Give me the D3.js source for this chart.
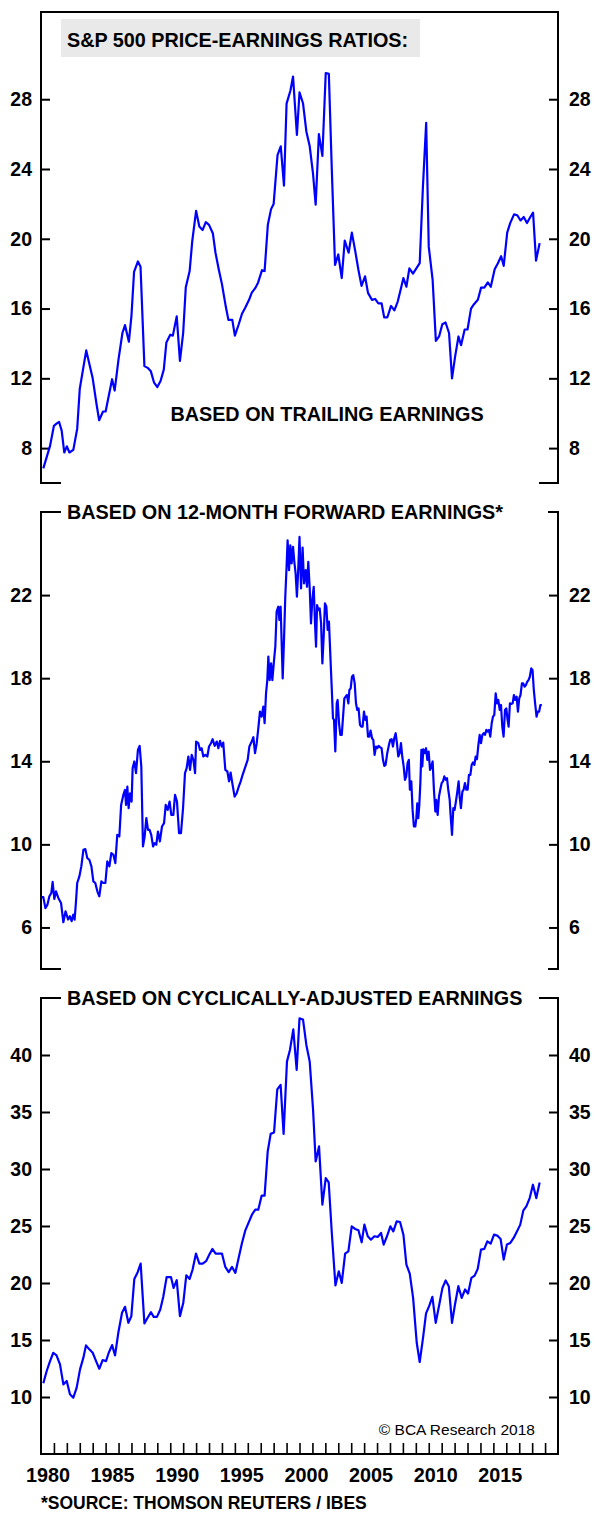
<!DOCTYPE html>
<html>
<head>
<meta charset="utf-8">
<script src="https://cdnjs.cloudflare.com/ajax/libs/d3/7.8.5/d3.min.js"></script>
<style>
  body { margin: 0; background: #fff; }
  svg text { font-family: "Liberation Sans", Arial, sans-serif; fill: #000; }
</style>
</head>
<body>
<svg id="chart" width="595" height="1513"></svg>
<script>

// S&P 500 P/E based on trailing earnings  [year, ratio]
var trailing = [
  [1980.18,6.84],[1980.7,8.13],[1981.0,9.28],[1981.2,9.4],[1981.4,9.5],[1981.6,9.0],[1981.8,7.75],[1982.0,8.1],
  [1982.2,7.75],[1982.5,7.9],[1982.8,9.1],[1983.0,11.4],[1983.5,13.6],[1984.0,12.0],[1984.3,10.5],[1984.5,9.6],
  [1984.8,10.1],[1985.0,10.1],[1985.5,11.95],[1985.7,11.3],[1986.0,13.1],[1986.3,14.6],[1986.5,15.05],[1986.8,14.1],
  [1987.0,15.6],[1987.2,18.1],[1987.5,18.7],[1987.7,18.4],[1988.0,12.7],[1988.25,12.6],[1988.5,12.4],[1988.75,11.75],
  [1989.0,11.5],[1989.25,11.85],[1989.5,12.5],[1989.7,14.05],[1990.0,14.5],[1990.2,14.45],[1990.5,15.55],[1990.75,13.0],
  [1991.0,14.6],[1991.2,17.2],[1991.5,18.15],[1991.7,19.85],[1992.0,21.6],[1992.25,20.7],[1992.5,20.5],[1992.75,20.95],
  [1993.0,20.8],[1993.3,20.3],[1993.5,19.2],[1993.75,18.25],[1994.0,17.4],[1994.3,16.1],[1994.5,15.35],[1994.8,15.35],
  [1995.0,14.45],[1995.3,15.1],[1995.55,15.7],[1995.8,16.05],[1996.1,16.5],[1996.3,16.9],[1996.6,17.2],[1996.8,17.5],
  [1997.1,18.2],[1997.3,18.15],[1997.55,20.8],[1997.8,21.7],[1998.0,22.0],[1998.3,24.8],[1998.55,25.3],[1998.8,23.05],
  [1999.0,27.75],[1999.3,28.5],[1999.5,29.3],[1999.8,25.95],[2000.0,28.4],[2000.27,27.77],[2000.53,26.15],[2000.79,25.3],
  [2001.05,23.7],[2001.25,21.95],[2001.5,26.0],[2001.77,24.75],[2002.03,29.5],[2002.27,29.45],[2002.5,23.95],[2002.75,18.5],
  [2003.0,19.1],[2003.27,17.75],[2003.5,19.9],[2003.8,19.2],[2004.05,20.35],[2004.3,19.35],[2004.55,18.25],[2004.8,17.3],
  [2005.07,17.85],[2005.3,16.9],[2005.6,16.5],[2005.85,16.55],[2006.1,16.3],[2006.35,16.3],[2006.55,15.5],[2006.8,15.5],
  [2007.08,16.15],[2007.34,15.9],[2007.6,16.4],[2007.8,17.0],[2008.04,17.75],[2008.27,17.25],[2008.5,18.3],[2008.78,18.0],
  [2009.04,18.3],[2009.3,18.6],[2009.55,23.0],[2009.8,26.65],[2010.0,19.55],[2010.3,17.65],[2010.55,14.15],[2010.8,14.4],
  [2011.05,15.1],[2011.3,15.2],[2011.57,14.6],[2011.8,12.0],[2012.03,13.2],[2012.3,14.4],[2012.5,13.9],[2012.78,14.8],
  [2013.0,14.8],[2013.27,16.0],[2013.5,16.25],[2013.8,16.5],[2014.05,17.2],[2014.3,17.2],[2014.57,17.5],[2014.8,17.25],
  [2015.1,18.25],[2015.35,18.6],[2015.6,19.0],[2015.8,18.45],[2016.07,20.35],[2016.3,20.9],[2016.6,21.4],[2016.85,21.35],
  [2017.1,21.05],[2017.35,21.25],[2017.6,20.9],[2017.86,21.25],[2018.07,21.5],[2018.3,18.75],[2018.58,19.75]
];

// based on 12-month forward earnings  [year, ratio]
var forward = [
  [1980.05,7.46],[1980.18,7.46],[1980.34,6.93],[1980.5,7.1],[1980.65,7.5],[1980.8,7.66],[1980.9,8.2],[1981.03,7.37],
  [1981.16,7.74],[1981.34,7.42],[1981.55,7.18],[1981.73,6.25],[1981.9,6.78],[1982.1,6.38],[1982.24,6.54],[1982.37,6.3],
  [1982.5,6.62],[1982.6,6.38],[1982.7,7.18],[1982.8,8.14],[1982.97,8.46],[1983.12,8.94],[1983.28,9.74],[1983.43,9.77],
  [1983.58,9.34],[1983.74,9.26],[1983.9,8.94],[1984.05,8.22],[1984.2,8.14],[1984.36,7.74],[1984.51,7.5],[1984.67,8.22],
  [1984.82,8.14],[1984.98,8.14],[1985.13,9.18],[1985.29,8.94],[1985.44,9.58],[1985.6,9.5],[1985.75,9.1],[1985.9,10.46],
  [1986.06,10.38],[1986.2,11.9],[1986.37,12.38],[1986.5,12.62],[1986.58,11.9],[1986.68,12.78],[1986.78,11.74],[1986.89,12.46],
  [1987.01,12.06],[1987.09,13.67],[1987.22,13.99],[1987.35,13.43],[1987.5,14.55],[1987.63,14.74],[1987.76,13.75],[1987.89,9.9],
  [1988.02,10.38],[1988.15,11.26],[1988.28,10.7],[1988.4,10.7],[1988.53,10.46],[1988.67,9.9],[1988.8,10.06],[1988.92,9.98],
  [1989.05,10.62],[1989.2,10.14],[1989.36,10.86],[1989.52,11.02],[1989.65,11.9],[1989.8,11.66],[1989.95,12.06],[1990.08,11.42],
  [1990.24,11.42],[1990.37,12.38],[1990.52,12.06],[1990.68,10.54],[1990.83,10.54],[1990.99,11.74],[1991.14,13.43],[1991.27,13.67],
  [1991.4,14.23],[1991.53,13.59],[1991.66,14.31],[1991.79,14.07],[1991.92,13.43],[1992.0,14.95],[1992.17,14.87],[1992.3,14.55],
  [1992.43,14.63],[1992.56,14.23],[1992.71,14.31],[1992.87,14.23],[1993.0,14.71],[1993.15,14.87],[1993.28,15.06],[1993.44,14.74],
  [1993.6,14.95],[1993.72,14.63],[1993.85,14.98],[1993.98,14.71],[1994.1,14.9],[1994.26,13.59],[1994.42,13.51],[1994.55,13.03],
  [1994.67,13.46],[1994.8,12.95],[1994.98,12.3],[1995.14,12.46],[1995.3,12.78],[1995.45,13.03],[1995.6,13.35],[1995.73,13.59],
  [1995.86,13.83],[1995.99,14.07],[1996.12,14.71],[1996.27,14.9],[1996.43,15.16],[1996.56,14.39],[1996.69,14.87],[1996.84,15.75],
  [1996.94,16.39],[1997.07,16.15],[1997.2,16.63],[1997.3,15.83],[1997.41,17.27],[1997.51,17.91],[1997.59,19.04],[1997.69,17.91],
  [1997.8,18.71],[1997.9,17.91],[1998.03,18.87],[1998.13,19.52],[1998.23,21.2],[1998.36,21.44],[1998.44,20.8],[1998.54,21.44],
  [1998.7,17.99],[1998.8,19.84],[1998.9,21.92],[1999.0,23.36],[1999.08,24.64],[1999.19,23.2],[1999.29,24.4],[1999.39,23.52],
  [1999.5,24.32],[1999.6,23.6],[1999.7,23.04],[1999.8,21.92],[1999.9,23.2],[2000.0,24.8],[2000.12,22.32],[2000.24,24.29],
  [2000.35,22.56],[2000.48,23.2],[2000.58,22.4],[2000.68,23.6],[2000.79,22.32],[2000.89,20.64],[2000.99,21.76],[2001.1,22.4],
  [2001.2,20.64],[2001.28,19.52],[2001.36,21.52],[2001.46,21.28],[2001.56,21.36],[2001.67,20.64],[2001.77,18.71],[2001.87,20.0],
  [2001.97,21.6],[2002.08,21.44],[2002.18,20.32],[2002.28,20.72],[2002.39,19.04],[2002.49,17.59],[2002.59,16.07],[2002.67,15.99],
  [2002.77,14.47],[2002.88,16.79],[2002.95,16.95],[2003.06,15.83],[2003.16,15.27],[2003.27,15.27],[2003.37,16.15],[2003.47,17.03],
  [2003.57,17.11],[2003.67,17.19],[2003.78,16.79],[2003.86,17.43],[2003.96,17.51],[2004.06,18.07],[2004.16,18.15],[2004.27,17.75],
  [2004.37,16.79],[2004.47,16.47],[2004.57,16.55],[2004.68,15.75],[2004.78,15.67],[2004.88,15.67],[2004.99,16.39],[2005.09,15.99],
  [2005.19,16.15],[2005.3,15.19],[2005.4,15.19],[2005.5,15.48],[2005.61,15.11],[2005.71,15.03],[2005.81,14.31],[2005.92,14.71],
  [2006.02,14.63],[2006.12,14.74],[2006.22,14.68],[2006.35,14.63],[2006.46,14.07],[2006.56,13.78],[2006.66,13.83],[2006.79,14.39],
  [2006.92,14.79],[2007.02,15.03],[2007.13,15.06],[2007.23,14.71],[2007.33,15.11],[2007.44,15.35],[2007.54,14.87],[2007.64,14.23],
  [2007.75,14.39],[2007.85,14.87],[2007.95,14.23],[2008.06,13.75],[2008.16,13.1],[2008.26,13.27],[2008.36,13.91],[2008.46,14.07],
  [2008.54,12.63],[2008.65,13.03],[2008.75,11.66],[2008.85,10.86],[2008.96,10.86],[2009.04,11.26],[2009.11,11.98],[2009.19,11.26],
  [2009.27,11.9],[2009.35,12.95],[2009.43,14.55],[2009.5,13.75],[2009.58,14.58],[2009.68,14.39],[2009.79,14.63],[2009.89,14.07],
  [2009.99,14.47],[2010.1,13.59],[2010.2,13.75],[2010.3,13.99],[2010.4,12.63],[2010.51,11.58],[2010.58,12.14],[2010.69,11.42],
  [2010.79,12.3],[2010.89,12.63],[2011.0,12.95],[2011.1,13.03],[2011.2,13.27],[2011.31,13.11],[2011.41,13.19],[2011.51,12.63],
  [2011.62,12.14],[2011.69,11.42],[2011.8,10.46],[2011.9,11.74],[2012.0,11.66],[2012.1,12.06],[2012.21,12.54],[2012.31,13.03],
  [2012.39,12.3],[2012.49,11.74],[2012.6,12.54],[2012.7,12.63],[2012.8,12.95],[2012.91,12.63],[2013.01,12.63],[2013.11,13.35],
  [2013.22,13.35],[2013.32,13.83],[2013.42,13.94],[2013.53,13.83],[2013.63,14.23],[2013.73,14.1],[2013.84,14.79],[2013.94,15.27],
  [2014.04,14.87],[2014.15,15.27],[2014.25,15.35],[2014.35,15.27],[2014.46,15.51],[2014.56,15.43],[2014.66,15.51],[2014.76,15.19],
  [2014.87,15.83],[2014.97,16.15],[2015.07,16.23],[2015.18,17.27],[2015.28,16.79],[2015.38,16.95],[2015.49,16.47],[2015.59,16.71],
  [2015.69,15.67],[2015.79,15.19],[2015.9,16.47],[2016.0,16.55],[2016.1,15.99],[2016.18,15.67],[2016.28,16.79],[2016.38,16.76],
  [2016.49,16.79],[2016.59,17.19],[2016.69,16.95],[2016.8,17.11],[2016.9,16.39],[2017.0,17.03],[2017.1,17.19],[2017.21,17.75],
  [2017.31,17.75],[2017.41,17.59],[2017.52,17.67],[2017.62,17.83],[2017.72,17.91],[2017.82,18.07],[2017.93,18.47],[2018.03,18.39],
  [2018.13,17.43],[2018.23,16.79],[2018.34,16.15],[2018.44,16.39],[2018.54,16.39],[2018.64,16.71],[2018.75,16.71]
];

// based on cyclically-adjusted earnings  [year, ratio]
var cape = [
  [1980.18,11.2],[1980.44,12.28],[1980.7,13.15],[1980.95,13.88],[1981.2,13.65],[1981.47,12.86],[1981.73,11.11],[1981.99,11.4],
  [1982.24,10.24],[1982.5,9.94],[1982.76,10.82],[1983.02,12.42],[1983.28,13.45],[1983.48,14.53],[1983.74,14.18],[1984.0,13.88],
  [1984.26,13.15],[1984.51,12.48],[1984.77,13.24],[1985.03,13.15],[1985.24,13.88],[1985.5,14.55],[1985.73,13.65],[1985.98,15.63],
  [1986.27,17.39],[1986.5,17.91],[1986.76,16.51],[1986.99,17.09],[1987.22,20.36],[1987.48,20.95],[1987.71,21.7],[1988.0,16.45],
  [1988.25,16.95],[1988.51,17.44],[1988.72,17.03],[1988.97,17.03],[1989.23,17.68],[1989.46,18.79],[1989.72,20.51],[1990.06,20.51],
  [1990.26,19.57],[1990.5,20.25],[1990.75,17.09],[1991.01,18.26],[1991.24,20.68],[1991.5,20.36],[1991.73,21.18],[1991.99,22.58],
  [1992.25,21.7],[1992.51,21.7],[1992.77,21.91],[1993.02,22.49],[1993.26,22.99],[1993.51,22.58],[1993.77,22.58],[1994.0,22.58],
  [1994.26,21.41],[1994.52,20.95],[1994.78,21.41],[1995.04,20.89],[1995.29,22.2],[1995.55,23.51],[1995.81,24.62],[1996.07,25.32],
  [1996.32,25.99],[1996.58,26.43],[1996.81,26.43],[1997.07,27.66],[1997.3,27.66],[1997.54,31.54],[1997.77,33.08],[1998.03,33.2],
  [1998.28,36.99],[1998.54,37.37],[1998.77,33.08],[1999.03,39.42],[1999.26,40.44],[1999.52,42.25],[1999.78,38.69],[2000.0,43.21],
  [2000.27,43.12],[2000.53,40.88],[2000.79,39.42],[2001.05,35.19],[2001.25,30.66],[2001.51,31.98],[2001.77,26.87],[2002.03,29.2],
  [2002.26,28.82],[2002.5,24.39],[2002.78,19.78],[2003.04,21.03],[2003.27,20.01],[2003.53,22.58],[2003.78,22.78],[2004.04,24.97],
  [2004.3,24.74],[2004.56,24.62],[2004.81,23.57],[2005.02,25.12],[2005.28,24.1],[2005.53,23.8],[2005.79,24.1],[2006.05,24.04],
  [2006.31,24.39],[2006.51,23.37],[2006.77,24.1],[2007.03,24.97],[2007.26,24.53],[2007.52,25.41],[2007.78,25.35],[2008.04,24.24],
  [2008.27,21.62],[2008.53,20.83],[2008.79,18.7],[2009.07,14.76],[2009.3,13.07],[2009.56,15.2],[2009.79,17.33],[2010.03,17.97],
  [2010.28,18.79],[2010.54,16.51],[2010.8,18.03],[2011.06,19.57],[2011.31,20.22],[2011.55,19.72],[2011.8,16.51],[2012.03,18.11],
  [2012.29,19.72],[2012.55,18.7],[2012.81,19.43],[2013.04,19.08],[2013.3,20.45],[2013.55,20.65],[2013.79,21.24],[2014.04,22.93],
  [2014.3,22.99],[2014.53,23.66],[2014.79,23.45],[2015.05,24.24],[2015.3,24.16],[2015.56,23.86],[2015.8,22.05],[2016.05,23.37],
  [2016.31,23.51],[2016.57,23.95],[2016.83,24.53],[2017.08,25.12],[2017.32,26.37],[2017.55,26.72],[2017.81,27.45],[2018.06,28.62],
  [2018.32,27.45],[2018.58,28.82]
];

var trailingTicks = [8, 12, 16, 20, 24, 28];
var forwardTicks = [6, 10, 14, 18, 22];
var capeTicks = [10, 15, 20, 25, 30, 35, 40];
var yearTicks = d3.range(1981, 2020);
var yearLabels = [1980, 1985, 1990, 1995, 2000, 2005, 2010, 2015];

var svg = d3.select("#chart");
var LEFT = 41, RIGHT = 558, AXIS_Y = 1454;

var x = d3.scaleLinear().domain([1980, 2020]).range([LEFT, RIGHT]);

var panels = [
  {data: trailing, domain: [6, 33], top: 12, bottom: 483, ticks: trailingTicks,
    topLine: "full", bottomLine: "stubs", stubL: 60, stubR: 540},
  {data: forward, domain: [4, 26], top: 512, bottom: 969, ticks: forwardTicks,
    topLine: "stubs", bottomLine: "stubs", stubL: 60, stubR: 549,
    title: "BASED ON 12-MONTH FORWARD EARNINGS*"},
  {data: cape, domain: [5, 45], top: 998, bottom: AXIS_Y, ticks: capeTicks,
    topLine: "stubs", bottomLine: "full", stubL: 60, stubR: 540,
    title: "BASED ON CYCLICALLY-ADJUSTED EARNINGS"}
];

function frameLine(g, x1, y1, x2, y2){
  g.append("line").attr("x1", x1).attr("y1", y1).attr("x2", x2).attr("y2", y2)
    .attr("stroke", "#000").attr("stroke-width", 2).attr("stroke-linecap", "square");
}

function hLine(g, p, y, kind){
  if(kind === "full"){
    frameLine(g, LEFT, y, RIGHT, y);
  }else{
    frameLine(g, LEFT, y, p.stubL, y);
    frameLine(g, p.stubR, y, RIGHT, y);
  }
}

function styleAxis(sel, size){
  sel.select(".domain").remove();
  sel.selectAll(".tick line").attr("stroke", "#000").attr("stroke-width", 2);
  sel.selectAll(".tick text").attr("font-size", size).attr("font-weight", "bold")
    .attr("font-family", "'Liberation Sans', Arial, sans-serif").attr("fill", "#000");
}

panels.forEach(function(p){

  var y = d3.scaleLinear().domain(p.domain).range([p.bottom, p.top]);
  var g = svg.append("g");

  var axL = g.append("g").attr("transform", "translate(" + LEFT + ",0)")
    .call(d3.axisLeft(y).tickValues(p.ticks).tickSizeInner(-9).tickSizeOuter(0).tickPadding(9));
  styleAxis(axL, 19.5);

  var axR = g.append("g").attr("transform", "translate(" + RIGHT + ",0)")
    .call(d3.axisRight(y).tickValues(p.ticks).tickSizeInner(-9).tickSizeOuter(0).tickPadding(11));
  styleAxis(axR, 19.5);

  frameLine(g, LEFT, p.top, LEFT, p.bottom);
  frameLine(g, RIGHT, p.top, RIGHT, p.bottom);
  hLine(g, p, p.top, p.topLine);
  hLine(g, p, p.bottom, p.bottomLine);

  if(p.title){
    g.append("text").attr("x", 67).attr("y", p.top + 7)
      .attr("font-size", 19.8).attr("font-weight", "bold").text(p.title);
  }

  var line = d3.line()
    .x(function(d){ return x(d[0]); })
    .y(function(d){ return y(d[1]); });

  g.append("path").datum(p.data)
    .attr("fill", "none").attr("stroke", "#0000ff").attr("stroke-width", 2.2)
    .attr("stroke-linejoin", "round").attr("d", line);
});

// heading box of the top panel
svg.append("rect").attr("x", 61).attr("y", 19).attr("width", 359).attr("height", 38).attr("fill", "#e9e9e9");
svg.append("text").attr("x", 67).attr("y", 47).attr("font-size", 19.8).attr("font-weight", "bold")
  .text("S&P 500 PRICE-EARNINGS RATIOS:");

svg.append("text").attr("x", 327).attr("y", 421).attr("text-anchor", "middle")
  .attr("font-size", 19.8).attr("font-weight", "bold").text("BASED ON TRAILING EARNINGS");

// yearly ticks along the bottom
var axT = svg.append("g").attr("transform", "translate(0," + AXIS_Y + ")")
  .call(d3.axisBottom(x).tickValues(yearTicks).tickSizeInner(-11).tickSizeOuter(0).tickFormat(""));
axT.select(".domain").remove();
axT.selectAll(".tick line").attr("stroke", "#000").attr("stroke-width", 1.6);

// year labels, centred on the middle of each year
var axLab = svg.append("g").attr("transform", "translate(0," + AXIS_Y + ")")
  .call(d3.axisBottom(x).tickValues(yearLabels.map(function(d){ return d + 0.5; }))
    .tickSize(0).tickPadding(14).tickFormat(function(d){ return Math.floor(d); }));
styleAxis(axLab, 19.8);

svg.append("text").attr("x", 535).attr("y", 1435).attr("text-anchor", "end")
  .attr("font-size", 15.5).text("\u00A9 BCA Research 2018");

svg.append("text").attr("x", 41).attr("y", 1508.5).attr("font-size", 17.5).attr("font-weight", "bold")
  .text("*SOURCE: THOMSON REUTERS / IBES");

</script>
</body>
</html>
